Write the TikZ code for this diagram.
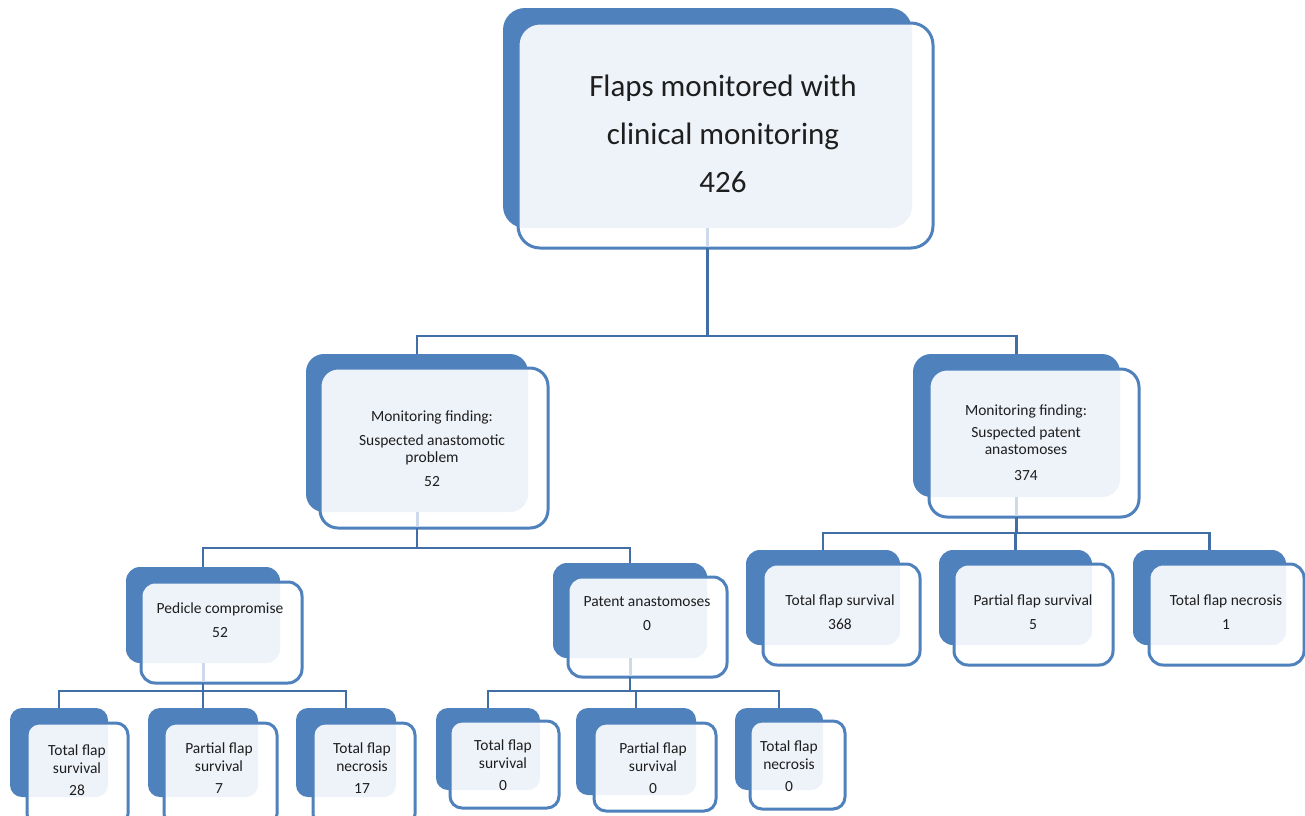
\documentclass[tikz,border=0pt]{standalone}
\usepackage{fontspec}
\setmainfont{Carlito}
\usetikzlibrary{calc}
\definecolor{backblue}{RGB}{79,129,189}
\definecolor{lineblue}{RGB}{66,110,168}
\definecolor{tintblue}{RGB}{238,242,249}
\definecolor{faintblue}{RGB}{205,218,236}
\definecolor{txt}{RGB}{30,30,30}
\tikzset{
  backbox/.style={fill=backblue, draw=none, inner sep=0pt, outer sep=0pt},
  frontfill/.style={fill=white, draw=none, inner sep=0pt, outer sep=0pt},
  frontline/.style={draw=backblue, line width=3pt},
  conn/.style={draw=lineblue, line width=2.8pt},
  faint/.style={draw=faintblue, line width=3pt, shorten >=1.5pt},
  lbl/.style={align=center, inner sep=0pt, text=txt},
  bigtxt/.style={lbl, font=\fontsize{31}{48}\selectfont},
  smalltxt/.style={lbl, font=\fontsize{15.5}{17}\selectfont},
}
\def\boxr{12pt}
% name, back x1 y1 x2 y2, front x1 y1 x2 y2
\newcommand\flapbox[9]{%
  \node[backbox, rounded corners=\boxr, minimum width={#4-#2}, minimum height={#5-#3}] (#1b) at ({(#2+#4)/2},{(#3+#5)/2}) {};
  \node[frontfill, rounded corners=\boxr, minimum width={#8-#6}, minimum height={#9-#7}] (#1) at ({(#6+#8)/2},{(#7+#9)/2}) {};
  \begin{scope}
    \clip[rounded corners=\boxr] (#6,#7) rectangle (#8,#9);
    \fill[tintblue, rounded corners=\boxr] (#2,#3) rectangle (#4,#5);
  \end{scope}
  \draw[frontline, rounded corners=\boxr] (#1.north west) rectangle (#1.south east);
}
\begin{document}
\begin{tikzpicture}[x=1pt,y=-1pt]
\useasboundingbox (0,0) rectangle (1305,815);
\fill[white] (0,0) rectangle (1305,815);

\def\boxr{22pt}
\flapbox{top}{503}{8}{912}{228}{518}{23}{933}{248}
\def\boxr{18pt}
\flapbox{sa}{306}{354}{528}{512}{320}{368}{548}{528}
\flapbox{sp}{913}{354}{1120}{497}{929}{369}{1139}{517}
\def\boxr{14pt}
\flapbox{pc}{126}{567}{280}{663}{141}{582}{302}{683}
\flapbox{pa}{553}{563}{707}{658}{568}{577}{727}{677}
\flapbox{ra}{746}{550}{900}{645}{763}{564}{920}{665}
\flapbox{rb}{939}{550}{1092}{645}{954}{564}{1113}{665}
\flapbox{rc}{1133}{550}{1286}{645}{1149}{564}{1304}{665}
\def\boxr{12pt}
\flapbox{ba}{10}{708}{108}{797}{27}{723}{128}{826}
\flapbox{bb}{148}{708}{258}{797}{164}{723}{277}{826}
\flapbox{bc}{296}{708}{396}{797}{313}{723}{415}{826}
\flapbox{bd}{436}{708}{540}{790}{450}{721}{559}{808}
\flapbox{be}{576}{708}{696}{795}{594}{723}{716}{811}
\flapbox{bf}{735}{708}{823}{790}{750}{721}{845}{809}

% faint inner stubs of the connectors
\foreach \n in {top,sa,sp,pc,pa}{
  \draw[faint] (\n b.south) -- (\n b.south |- \n.south);
}

% connectors
\coordinate (j1) at (topb |- 0,336);
\draw[conn] (topb |- top.south) -- (j1);
\draw[conn] (j1) -| (sab.north);
\draw[conn] (j1) -| (spb.north);

\coordinate (j2) at (sab |- 0,548);
\draw[conn] (sab |- sa.south) -- (j2);
\draw[conn] (j2) -| (pcb.north);
\draw[conn] (j2) -| (pab.north);

\coordinate (j3) at (spb |- 0,533);
\draw[conn] (spb |- sp.south) -- (j3);
\draw[conn] (j3) -| (rab.north);
\draw[conn] (j3) -| (rbb.north);
\draw[conn] (j3) -| (rcb.north);

\coordinate (j4) at (pcb |- 0,691);
\draw[conn] (pcb |- pc.south) -- (j4);
\draw[conn] (j4) -| (bab.north);
\draw[conn] (j4) -| (bbb.north);
\draw[conn] (j4) -| (bcb.north);

\coordinate (j5) at (pab |- 0,691);
\draw[conn] (pab |- pa.south) -- (j5);
\draw[conn] (j5) -| (bdb.north);
\draw[conn] (j5) -| (beb.north);
\draw[conn] (j5) -| (bfb.north);

% texts
\node[bigtxt] (ttop) at (723,134) {Flaps monitored with\\clinical monitoring\\426};
\node[smalltxt] (tsa) at (432,449) {Monitoring finding:\\[7pt]Suspected anastomotic\\problem\\[7pt]52};
\node[smalltxt] (tsp) at (1026,443) {Monitoring finding:\\[5pt]Suspected patent\\anastomoses\\[9pt]374};
\node[smalltxt] (tpc) at (220,620) {Pedicle compromise\\[7pt]52};
\node[smalltxt] (tpa) at (647,614) {Patent anastomoses\\[7pt]0};
\node[smalltxt] (tra) at (840,612) {Total flap survival\\[7pt]368};
\node[smalltxt] (trb) at (1033,612) {Partial flap survival\\[7pt]5};
\node[smalltxt] (trc) at (1226,612) {Total flap necrosis\\[7pt]1};
\node[smalltxt] (tba) at (77,770) {Total flap\\[1pt]survival\\[5pt]28};
\node[smalltxt] (tbb) at (219,768) {Partial flap\\[1pt]survival\\[5pt]7};
\node[smalltxt] (tbc) at (362,768) {Total flap\\[1pt]necrosis\\[5pt]17};
\node[smalltxt] (tbd) at (503,765) {Total flap\\[1pt]survival\\[5pt]0};
\node[smalltxt] (tbe) at (653,768) {Partial flap\\[1pt]survival\\[5pt]0};
\node[smalltxt] (tbf) at (789,766) {Total flap\\[1pt]necrosis\\[5pt]0};
\end{tikzpicture}
\end{document}
